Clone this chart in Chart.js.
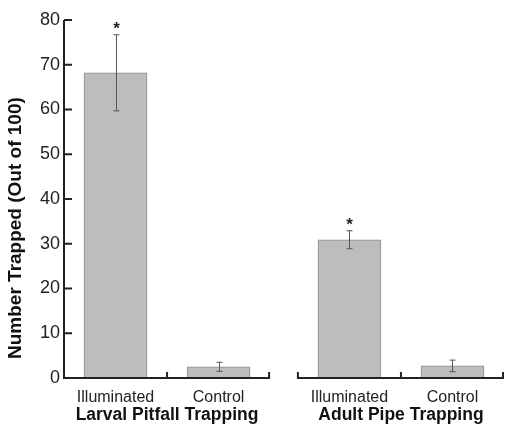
<!DOCTYPE html>
<html>
<head>
<meta charset="utf-8">
<script src="https://cdn.jsdelivr.net/npm/chart.js@4.4.1/dist/chart.umd.min.js"></script>
<style>
  body { margin: 0; background: #fff; }
</style>
</head>
<body>
<canvas id="chart_trap" width="506" height="428"></canvas>
<script>
var categories = ['Illuminated', 'Control', 'Illuminated', 'Control'];
var groups = ['Larval Pitfall Trapping', 'Adult Pipe Trapping'];
var groupOf = [0, 0, 1, 1];
var means = [68.2, 2.5, 30.9, 2.7];
var errors = [8.5, 1.0, 2.0, 1.3];
var significant = [true, false, true, false];
var yTicks = [0, 10, 20, 30, 40, 50, 60, 70, 80];
var yTitle = 'Number Trapped (Out of 100)';

// gap between the two broken x-axis segments, in category widths
var GAP = 0.27;
var FONT = 'Liberation Sans, Arial, Helvetica, sans-serif';

function barX(i) { return i + 0.5 + groupOf[i] * GAP; }
function segStart(g) { return g * (2 + GAP); }
function segEnd(g) { return g * (2 + GAP) + 2; }

var points = means.map(function (m, i) { return { x: barX(i), y: m }; });

var axisPlugin = {
    id: 'brokenAxes',
    afterDatasetsDraw: function (chart) {
        var ctx = chart.ctx;
        var xs = chart.scales.x;
        var ys = chart.scales.y;
        var y0 = ys.getPixelForValue(0);
        ctx.save();

        // error bars
        ctx.strokeStyle = '#555';
        ctx.lineWidth = 1;
        means.forEach(function (m, i) {
            var cx = Math.round(xs.getPixelForValue(barX(i))) + 0.5;
            var top = ys.getPixelForValue(m + errors[i]);
            var bot = ys.getPixelForValue(m - errors[i]);
            ctx.beginPath();
            ctx.moveTo(cx, top); ctx.lineTo(cx, bot);
            ctx.moveTo(cx - 3, top); ctx.lineTo(cx + 3, top);
            ctx.moveTo(cx - 3, bot); ctx.lineTo(cx + 3, bot);
            ctx.stroke();
            if (significant[i]) {
                ctx.fillStyle = '#222';
                ctx.font = 'bold 17px ' + FONT;
                ctx.textAlign = 'center';
                ctx.textBaseline = 'alphabetic';
                ctx.fillText('*', cx, top - 1);
            }
        });

        // y axis with inward ticks
        ctx.strokeStyle = '#222';
        ctx.lineWidth = 2;
        var left = xs.getPixelForValue(0);
        ctx.beginPath();
        ctx.moveTo(left, y0 + 1);
        ctx.lineTo(left, ys.getPixelForValue(80));
        yTicks.forEach(function (t) {
            var py = ys.getPixelForValue(t);
            ctx.moveTo(left, py);
            ctx.lineTo(left + 8, py);
        });
        ctx.stroke();

        // broken x axis with upward ticks
        groups.forEach(function (g, gi) {
            var a = xs.getPixelForValue(segStart(gi));
            var b = xs.getPixelForValue(segEnd(gi));
            var mid = xs.getPixelForValue(segStart(gi) + 1);
            ctx.beginPath();
            ctx.moveTo(a - 1, y0); ctx.lineTo(b, y0);
            if (gi > 0) { ctx.moveTo(a, y0); ctx.lineTo(a, y0 - 6); }
            ctx.moveTo(mid, y0); ctx.lineTo(mid, y0 - 6);
            ctx.moveTo(b - 1, y0); ctx.lineTo(b - 1, y0 - 6);
            ctx.stroke();
        });

        // y title, sits a bit below the axis middle in the original
        ctx.translate(16, ys.getPixelForValue(33.5));
        ctx.rotate(-Math.PI / 2);
        ctx.fillStyle = '#111';
        ctx.font = 'bold 19px ' + FONT;
        ctx.textAlign = 'center';
        ctx.textBaseline = 'middle';
        ctx.fillText(yTitle, 0, 0);
        ctx.restore();
    }
};

function fitX(h) {
    return function (scale) {
        scale.height = h;
        scale.paddingLeft = 0;
        scale.paddingRight = 0;
    };
}

var chart_trap = new Chart(document.getElementById('chart_trap'), {
    type: 'bar',
    data: {
        datasets: [{
            label: 'Number trapped',
            data: points,
            backgroundColor: '#bdbdbd',
            borderColor: '#8c8c8c',
            borderWidth: 1,
            barThickness: 63
        }]
    },
    plugins: [axisPlugin],
    options: {
        responsive: false,
        animation: false,
        layout: { padding: { top: 20, right: 2, left: 0, bottom: 0 } },
        plugins: {
            legend: { display: false },
            tooltip: { enabled: false }
        },
        scales: {
            x: {
                type: 'linear',
                offset: false,
                min: 0,
                max: 4 + GAP,
                grid: { display: false, drawTicks: false },
                border: { display: false },
                afterBuildTicks: function (scale) {
                    scale.ticks = categories.map(function (c, i) { return { value: barX(i) }; });
                },
                afterFit: fitX(27),
                ticks: {
                    autoSkip: false,
                    maxRotation: 0,
                    padding: 10,
                    color: '#222',
                    font: { family: FONT, size: 16 },
                    callback: function (v, i) { return categories[i]; }
                }
            },
            xg: {
                type: 'linear',
                position: 'bottom',
                offset: false,
                min: 0,
                max: 4 + GAP,
                grid: { display: false, drawTicks: false },
                border: { display: false },
                afterBuildTicks: function (scale) {
                    scale.ticks = groups.map(function (g, gi) { return { value: segStart(gi) + 1 }; });
                },
                afterFit: fitX(23),
                ticks: {
                    autoSkip: false,
                    maxRotation: 0,
                    padding: 0,
                    color: '#111',
                    font: { family: FONT, size: 17.5, weight: 'bold' },
                    callback: function (v, i) { return groups[i]; }
                }
            },
            y: {
                min: 0,
                max: 80,
                grid: { display: false, drawTicks: false },
                border: { display: false },
                afterFit: function (scale) {
                    scale.width = 64;
                    scale.paddingTop = 0;
                    scale.paddingBottom = 0;
                },
                ticks: {
                    stepSize: 10,
                    padding: 4,
                    color: '#222',
                    font: { family: FONT, size: 18 }
                }
            }
        }
    }
});
</script>
</body>
</html>
